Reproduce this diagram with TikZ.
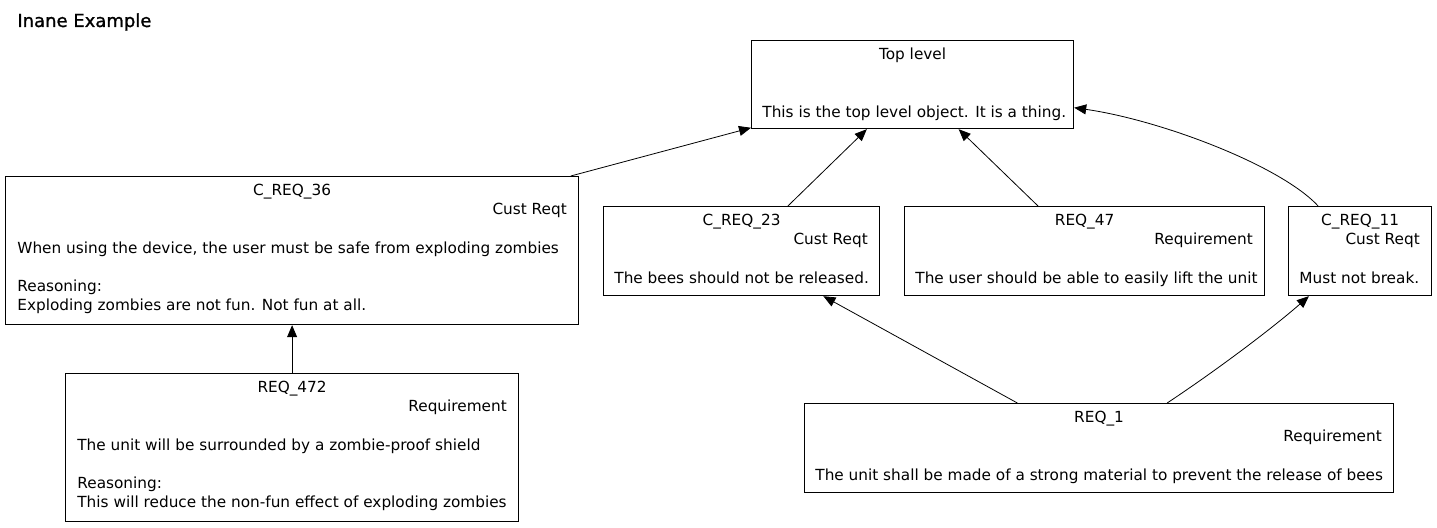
\documentclass[tikz,border=0pt]{standalone}
\usepackage{fontspec}
\setmainfont{DejaVu Sans}
\newfontfamily\titlefont{DejaVu Sans}[FakeBold=1.2]
\usetikzlibrary{positioning, calc, arrows.meta}

\begin{document}
\begin{tikzpicture}[x=0.5pt,y=-0.5pt,
  box/.style={draw,line width=0.6pt,inner sep=0,anchor=north west},
  txt/.style={inner sep=0,font=\fontsize{7.65}{9}\selectfont},
  >={Triangle[length=6pt,width=5pt]}]
\useasboundingbox (0,0) rectangle (1437,528);
\node[inner sep=0,anchor=base west,font=\titlefont\fontsize{9}{11}\selectfont] (title) at (17,27) {Inane Example};%le titre

% les boites
\node[box,minimum width=161pt,minimum height=44pt] (top) at (751,40) {};
\node[box,minimum width=286.5pt,minimum height=74pt] (c36) at (5,176) {};
\node[box,minimum width=138pt,minimum height=44.5pt] (c23) at (603,206) {};
\node[box,minimum width=180pt,minimum height=44.5pt] (r47) at (904,206) {};
\node[box,minimum width=71.5pt,minimum height=44.5pt] (c11) at (1288,206) {};
\node[box,minimum width=226.5pt,minimum height=74pt] (r472) at (65,373) {};
\node[box,minimum width=294.5pt,minimum height=44.5pt] (r1) at (804,403) {};

% top level
\node[txt,anchor=base] (topa) at ($(top.north)+(0,20)$) {Top level};
\node[txt,anchor=base west] (topb) at ($(top.north west)+(11,78)$) {This is the top level object. It is a thing.};

% C_REQ_36
\node[txt,anchor=base] (c36a) at ($(c36.north)+(0,20)$) {C\_REQ\_36};
\node[txt,anchor=base east] (c36b) at ($(c36.north east)+(-12,39)$) {Cust Reqt};
\node[txt,anchor=base west] (c36c) at ($(c36.north west)+(12,78)$) {When using the device, the user must be safe from exploding zombies};
\node[txt,anchor=base west] (c36d) at ($(c36.north west)+(12,116)$) {Reasoning:};
\node[txt,anchor=base west] (c36e) at ($(c36.north west)+(12,135)$) {Exploding zombies are not fun. Not fun at all.};

% C_REQ_23
\node[txt,anchor=base] (c23a) at ($(c23.north)+(0,20)$) {C\_REQ\_23};
\node[txt,anchor=base east] (c23b) at ($(c23.north east)+(-12,39)$) {Cust Reqt};
\node[txt,anchor=base west] (c23c) at ($(c23.north west)+(11,78)$) {The bees should not be released.};

% REQ_47
\node[txt,anchor=base] (r47a) at ($(r47.north)+(0,20)$) {REQ\_47};
\node[txt,anchor=base east] (r47b) at ($(r47.north east)+(-12,39)$) {Requirement};
\node[txt,anchor=base west] (r47c) at ($(r47.north west)+(11,78)$) {The user should be able to easily lift the unit};

% C_REQ_11
\node[txt,anchor=base] (c11a) at ($(c11.north)+(0,20)$) {C\_REQ\_11};
\node[txt,anchor=base east] (c11b) at ($(c11.north east)+(-12,39)$) {Cust Reqt};
\node[txt,anchor=base west] (c11c) at ($(c11.north west)+(11,78)$) {Must not break.};

% REQ_472
\node[txt,anchor=base] (r472a) at ($(r472.north)+(0,20)$) {REQ\_472};
\node[txt,anchor=base east] (r472b) at ($(r472.north east)+(-12,39)$) {Requirement};
\node[txt,anchor=base west] (r472c) at ($(r472.north west)+(12,78)$) {The unit will be surrounded by a zombie-proof shield};
\node[txt,anchor=base west] (r472d) at ($(r472.north west)+(12,116)$) {Reasoning:};
\node[txt,anchor=base west] (r472e) at ($(r472.north west)+(12,135)$) {This will reduce the non-fun effect of exploding zombies};

% REQ_1
\node[txt,anchor=base] (r1a) at ($(r1.north)+(0,20)$) {REQ\_1};
\node[txt,anchor=base east] (r1b) at ($(r1.north east)+(-12,39)$) {Requirement};
\node[txt,anchor=base west] (r1c) at ($(r1.north west)+(11,78)$) {The unit shall be made of a strong material to prevent the release of bees};

% les fleches
\draw[->] (c36) -- (top);
\draw[->] (c23) -- (top);
\draw[->] (r47) -- (top);
\draw[->] (c11) .. controls (1280,165) and (1160,120) .. (top);
\draw[->] (r472) -- (c36);
\draw[->] (r1) -- (c23);
\draw[->] (r1) .. controls (1220,368) and (1275,326) .. (c11);
\end{tikzpicture}
\end{document}
